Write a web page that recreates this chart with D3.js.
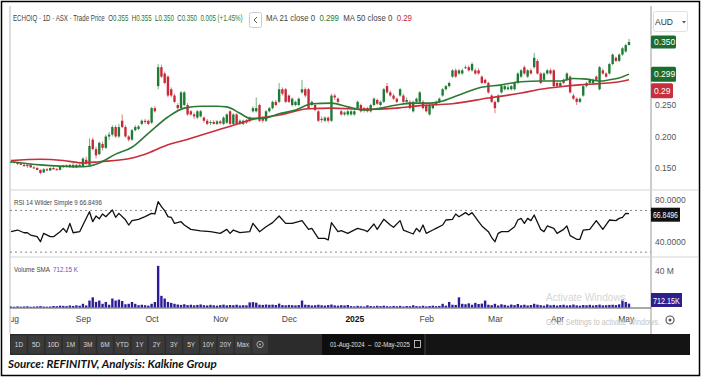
<!DOCTYPE html>
<html>
<head>
<meta charset="utf-8">
<script src="https://cdn.jsdelivr.net/npm/d3@7"></script>
<style>
  body { margin: 0; background: #fff; }
  svg { display: block; font-family: "Liberation Sans", Arial, sans-serif; }
</style>
</head>
<body>
<svg id="chart" width="702" height="378"></svg>
<script>
/* DATA */
// daily candles, 01-Aug-2024 .. 02-May-2025 : [open, high, low, close]
const ohlc = [
  [0.160,0.162,0.158,0.160],[0.160,0.162,0.157,0.158],[0.158,0.160,0.155,0.157],[0.157,0.160,0.155,0.155],[0.155,0.158,0.152,0.153],
  [0.153,0.156,0.150,0.155],[0.155,0.157,0.150,0.151],[0.151,0.153,0.148,0.150],[0.150,0.152,0.146,0.147],[0.147,0.148,0.140,0.142],
  [0.143,0.150,0.142,0.148],[0.148,0.150,0.145,0.146],[0.146,0.151,0.145,0.150],[0.150,0.152,0.147,0.148],[0.148,0.150,0.146,0.147],
  [0.147,0.153,0.146,0.152],[0.152,0.155,0.150,0.154],[0.154,0.156,0.151,0.152],[0.152,0.156,0.150,0.155],[0.155,0.158,0.150,0.151],
  [0.151,0.156,0.150,0.155],[0.155,0.157,0.152,0.153],[0.153,0.167,0.152,0.165],[0.163,0.168,0.155,0.157],[0.155,0.197,0.154,0.185],
  [0.195,0.198,0.178,0.180],[0.180,0.184,0.165,0.170],[0.172,0.192,0.170,0.190],[0.188,0.192,0.178,0.182],[0.182,0.203,0.180,0.200],
  [0.200,0.207,0.195,0.203],[0.203,0.218,0.200,0.215],[0.215,0.218,0.198,0.200],[0.200,0.220,0.198,0.215],[0.225,0.235,0.213,0.215],
  [0.215,0.218,0.198,0.200],[0.200,0.202,0.192,0.195],[0.195,0.212,0.193,0.210],[0.210,0.218,0.208,0.215],[0.212,0.218,0.210,0.216],
  [0.220,0.227,0.218,0.225],[0.225,0.228,0.220,0.223],[0.225,0.227,0.218,0.220],[0.222,0.247,0.220,0.245],[0.245,0.248,0.238,0.240],
  [0.280,0.315,0.275,0.310],[0.310,0.314,0.293,0.295],[0.300,0.303,0.283,0.285],[0.295,0.297,0.262,0.265],[0.275,0.278,0.262,0.265],
  [0.265,0.268,0.253,0.255],[0.250,0.253,0.243,0.245],[0.245,0.272,0.243,0.270],[0.250,0.272,0.248,0.270],[0.250,0.253,0.233,0.235],
  [0.240,0.242,0.233,0.235],[0.235,0.238,0.228,0.232],[0.230,0.242,0.228,0.240],[0.232,0.242,0.230,0.240],[0.230,0.232,0.222,0.225],
  [0.225,0.228,0.218,0.220],[0.222,0.226,0.218,0.223],[0.223,0.226,0.219,0.220],[0.220,0.226,0.218,0.224],[0.224,0.226,0.219,0.221],
  [0.220,0.232,0.218,0.230],[0.222,0.237,0.220,0.235],[0.240,0.242,0.218,0.220],[0.220,0.237,0.218,0.235],[0.235,0.237,0.218,0.220],
  [0.220,0.227,0.218,0.225],[0.220,0.227,0.218,0.225],[0.225,0.228,0.220,0.222],[0.225,0.232,0.222,0.230],[0.240,0.248,0.238,0.245],
  [0.240,0.262,0.238,0.245],[0.250,0.252,0.223,0.225],[0.230,0.232,0.222,0.225],[0.225,0.242,0.223,0.240],[0.240,0.247,0.238,0.245],
  [0.245,0.257,0.243,0.255],[0.255,0.258,0.248,0.250],[0.255,0.285,0.253,0.275],[0.275,0.278,0.265,0.268],[0.275,0.277,0.253,0.255],
  [0.265,0.267,0.253,0.255],[0.250,0.262,0.248,0.260],[0.250,0.257,0.248,0.255],[0.250,0.262,0.248,0.260],[0.270,0.290,0.268,0.275],
  [0.275,0.278,0.262,0.265],[0.275,0.277,0.243,0.245],[0.250,0.257,0.248,0.255],[0.250,0.252,0.240,0.242],[0.240,0.242,0.223,0.225],
  [0.228,0.232,0.222,0.226],[0.225,0.232,0.223,0.230],[0.230,0.232,0.222,0.225],[0.225,0.268,0.223,0.265],[0.265,0.268,0.258,0.262],
  [0.260,0.262,0.253,0.255],[0.240,0.242,0.233,0.235],[0.235,0.240,0.233,0.238],[0.235,0.242,0.233,0.240],[0.235,0.242,0.233,0.240],
  [0.235,0.242,0.233,0.240],[0.245,0.257,0.243,0.255],[0.250,0.252,0.238,0.240],[0.245,0.247,0.238,0.242],[0.245,0.247,0.238,0.240],
  [0.240,0.252,0.238,0.250],[0.250,0.262,0.248,0.260],[0.258,0.260,0.250,0.252],[0.250,0.257,0.248,0.255],[0.255,0.277,0.253,0.275],
  [0.280,0.285,0.268,0.270],[0.270,0.273,0.263,0.265],[0.265,0.268,0.258,0.260],[0.260,0.262,0.253,0.255],[0.265,0.277,0.263,0.275],
  [0.265,0.268,0.253,0.255],[0.255,0.262,0.250,0.258],[0.255,0.258,0.243,0.245],[0.240,0.257,0.238,0.255],[0.255,0.262,0.252,0.260],
  [0.255,0.272,0.253,0.270],[0.255,0.258,0.243,0.245],[0.250,0.252,0.238,0.240],[0.235,0.252,0.233,0.250],[0.245,0.252,0.243,0.250],
  [0.250,0.257,0.248,0.255],[0.255,0.262,0.253,0.260],[0.265,0.277,0.263,0.275],[0.275,0.282,0.273,0.280],[0.280,0.287,0.278,0.285],
  [0.295,0.307,0.293,0.305],[0.305,0.308,0.293,0.295],[0.300,0.307,0.298,0.305],[0.300,0.308,0.298,0.305],[0.310,0.313,0.307,0.310],
  [0.310,0.313,0.303,0.305],[0.305,0.318,0.303,0.315],[0.305,0.308,0.298,0.300],[0.305,0.308,0.298,0.300],[0.295,0.297,0.283,0.285],
  [0.290,0.292,0.283,0.285],[0.285,0.287,0.268,0.270],[0.265,0.267,0.253,0.255],[0.255,0.257,0.237,0.245],[0.255,0.267,0.253,0.265],
  [0.270,0.282,0.268,0.280],[0.275,0.282,0.273,0.280],[0.275,0.282,0.273,0.278],[0.275,0.282,0.273,0.280],[0.275,0.287,0.273,0.285],
  [0.285,0.302,0.283,0.300],[0.295,0.307,0.293,0.305],[0.310,0.313,0.298,0.300],[0.295,0.307,0.293,0.305],[0.305,0.308,0.298,0.300],
  [0.310,0.333,0.308,0.325],[0.320,0.323,0.298,0.300],[0.300,0.302,0.283,0.285],[0.290,0.302,0.288,0.300],[0.300,0.307,0.298,0.305],
  [0.305,0.308,0.298,0.300],[0.305,0.307,0.278,0.280],[0.285,0.287,0.278,0.280],[0.280,0.287,0.278,0.285],[0.290,0.292,0.283,0.285],
  [0.290,0.302,0.288,0.300],[0.295,0.297,0.268,0.270],[0.265,0.268,0.258,0.260],[0.260,0.262,0.250,0.255],[0.255,0.262,0.253,0.260],
  [0.265,0.282,0.263,0.280],[0.280,0.287,0.278,0.285],[0.285,0.292,0.283,0.290],[0.285,0.292,0.283,0.290],[0.295,0.297,0.288,0.290],
  [0.275,0.312,0.273,0.310],[0.305,0.308,0.298,0.300],[0.300,0.302,0.293,0.295],[0.300,0.317,0.298,0.315],[0.315,0.332,0.313,0.330],
  [0.325,0.327,0.318,0.320],[0.320,0.332,0.318,0.330],[0.330,0.342,0.328,0.340],[0.335,0.347,0.333,0.345],[0.345,0.355,0.345,0.350]
];

// volume in millions, one per candle
const volume = [
  1.0,0.8,1.2,0.9,1.1,1.3,0.8,1.0,1.2,1.5,1.0,0.9,1.1,
  1.6,1.4,2.0,1.8,1.5,2.2,1.7,2.4,1.9,
  4.0,2.2,7.5,11.0,6.0,7.5,4.0,6.0,3.0,9.7,7.5,8.5,7.0,3.5,4.0,6.0,4.0,2.5,3.0,2.5,2.0,4.0,6.0,45.0,12.6,9.7,6.0,5.0,4.0,
  3.2,2.8,3.5,2.6,3.0,2.4,2.8,3.3,2.5,2.2,2.9,2.4,2.0,2.6,3.1,2.3,2.7,2.5,3.0,2.2,
  2.5,2.4,5.5,5.8,5.2,3.0,2.8,3.2,2.9,3.1,2.7,4.2,2.6,2.4,2.8,2.5,2.3,2.6,7.5,3.0,
  2.8,2.2,2.5,3.0,2.4,2.1,2.6,3.2,2.3,2.0,2.5,2.2,2.7,
  1.5,1.2,1.8,1.4,1.1,2.3,1.6,1.3,1.9,1.5,2.0,1.4,1.2,1.7,1.3,1.8,1.1,1.6,1.4,2.4,1.5,1.3,1.9,1.2,1.6,2.0,1.4,1.7,
  4.0,2.0,6.0,3.0,2.8,11.0,4.0,3.5,4.5,3.0,5.0,3.8,4.2,7.5,
  3.0,2.5,4.0,2.2,3.5,2.8,2.0,3.2,2.6,3.8,2.4,3.0,2.2,2.7,4.0,3.1,2.5,2.0,3.3,
  2.4,2.8,2.1,2.6,3.0,2.2,2.5,3.2,2.3,2.0,2.7,2.4,2.9,2.2,2.6,3.1,2.3,2.5,2.8,3.0,2.6,3.4,
  8.6,6.0,4.2
];

// moving averages read at candle indexes: [index, value]
const ma21 = [[0,0.160],[9,0.155],[15,0.153],[22,0.152],[27,0.158],[32,0.172],[37,0.183],[42,0.205],[48,0.231],
  [53,0.245],[58,0.248],[63,0.248],[66,0.247],[70,0.237],[73,0.229],[77,0.229],[82,0.236],[87,0.242],[92,0.252],
  [98,0.253],[103,0.247],[108,0.242],[113,0.245],[118,0.250],[123,0.253],[128,0.253],[131,0.255],[137,0.266],
  [143,0.277],[150,0.282],[156,0.287],[162,0.288],[168,0.288],[172,0.292],[176,0.291],[180,0.288],[183,0.290],
  [186,0.293],[189,0.299]];
const ma50 = [[0,0.162],[9,0.164],[16,0.162],[22,0.158],[27,0.160],[37,0.166],[42,0.174],[48,0.187],[53,0.194],
  [58,0.202],[63,0.210],[70,0.221],[73,0.226],[82,0.234],[91,0.244],[98,0.245],[108,0.243],[118,0.245],[125,0.249],
  [135,0.252],[146,0.261],[156,0.269],[162,0.275],[168,0.279],[174,0.282],[180,0.284],[186,0.287],[189,0.290]];

// RSI 14 read at candle indexes: [index, value]
const rsi = [[0,49.6],[2,51.2],[4,48.6],[5,48.6],[6,46.4],[8,44.8],[9,40.0],[10,48.0],[12,44.8],[13,44.8],[15,49.6],
  [16,52.8],[17,49.0],[18,57.6],[19,48.6],[21,49.6],[22,56.0],[24,68.8],[25,59.2],[26,64.6],[27,62.0],[28,66.6],
  [29,64.0],[31,70.4],[32,63.4],[33,67.2],[35,61.0],[36,56.0],[37,60.2],[39,61.5],[41,64.0],[43,67.2],[44,66.6],
  [45,78.4],[46,73.6],[47,69.8],[48,64.0],[49,63.4],[50,57.6],[52,59.2],[53,56.0],[55,51.8],[58,50.4],[61,49.6],
  [64,48.0],[66,51.8],[67,48.0],[68,51.2],[70,48.7],[73,49.6],[74,57.6],[76,49.6],[78,54.4],[80,58.3],[82,64.7],
  [84,57.6],[86,57.6],[89,60.2],[91,51.8],[92,52.8],[94,43.2],[96,43.2],[97,41.6],[98,58.3],[100,49.6],[101,50.6],
  [103,48.0],[104,49.6],[106,52.8],[108,51.2],[109,49.6],[111,57.0],[112,51.8],[114,61.5],[116,56.0],[117,53.8],
  [119,60.2],[120,51.2],[123,47.4],[124,52.8],[125,49.6],[126,56.0],[127,48.0],[129,51.2],[130,52.8],[132,56.0],
  [133,60.8],[135,61.5],[136,66.6],[137,64.0],[139,67.9],[140,65.6],[141,67.9],[143,59.2],[144,55.1],[146,49.6],
  [147,44.0],[148,40.0],[149,48.0],[150,49.6],[152,49.6],[154,54.4],[155,60.8],[156,62.4],[157,57.6],[158,62.4],
  [159,60.2],[160,65.6],[162,51.8],[163,49.6],[164,55.1],[166,52.8],[167,48.0],[169,51.8],[170,55.1],[171,45.8],
  [173,42.3],[174,42.3],[175,51.2],[177,51.8],[179,60.2],[181,51.8],[183,60.8],[185,60.2],[186,62.4],[187,63.4],
  [188,67.2],[189,66.85]];

// month labels at the first candle of each month
const monthTicks = [["Aug",0],["Sep",22],["Oct",43],["Nov",64],["Dec",85],["2025",105],["Feb",127],["Mar",148],["Apr",167],["May",188]];
const priceTicks = [0.15, 0.20, 0.25, 0.30];
const rsiTicks = [40, 80];
const rsiLevels = [30, 70];
const volTicks = [40];
const rangeButtons = ["1D","5D","10D","1M","3M","6M","YTD","1Y","2Y","3Y","5Y","10Y","20Y","Max"];

/* LAYOUT */
const L = 10, R = 651;
const up = "#1e7b34", down = "#c8283a";
const svg = d3.select("#chart");

const x = d3.scaleLinear().domain([0, ohlc.length - 1]).range([11, 629]);
const yPrice = d3.scaleLinear().domain([0.15, 0.35]).range([168, 42]);
const yRsi = d3.scaleLinear().domain([40, 80]).range([241.7, 200]);
const yVol = d3.scaleLinear().domain([0, 40]).range([307.5, 270.5]);

// squeeze a text horizontally so it spans `w` pixels from x0 (the source font is a narrow one)
function fit(t, x0, y0, w) {
  const n = t.attr("x", 0).attr("y", 0).node().getComputedTextLength();
  t.attr("transform", `translate(${x0},${y0}) scale(${w / n},1)`);
  return t;
}

const defs = svg.append("defs");
defs.append("clipPath").attr("id", "clipPrice").append("rect").attr("x", L).attr("y", 6).attr("width", R - L).attr("height", 184);

// frame + pane lines
svg.append("rect").attr("x", 1.5).attr("y", 1.5).attr("width", 698).attr("height", 374)
  .attr("fill", "#fff").attr("stroke", "#000").attr("stroke-width", 1.5);
svg.append("line").attr("x1", L).attr("x2", L).attr("y1", 6).attr("y2", 334).attr("stroke", "#bbb");
svg.append("line").attr("x1", R).attr("x2", R).attr("y1", 6).attr("y2", 334).attr("stroke", "#999");
[190, 257].forEach(yy => svg.append("line").attr("x1", L).attr("x2", 698).attr("y1", yy).attr("y2", yy).attr("stroke", "#d4d4d4"));
svg.append("line").attr("x1", L).attr("x2", R).attr("y1", 308).attr("y2", 308).attr("stroke", "#555");

// header
const head = svg.append("text").attr("font-size", 8.5).attr("fill", "#444");
[["ECHOIQ · 1D · ASX · Trade Price  O", "#444"], ["0.355", up], ["  H", "#444"], ["0.355", up], ["  L", "#444"],
 ["0.350", up], ["  C", "#444"], ["0.350", up], ["  0.005 (+1.45%)", up]]
  .forEach(([t, c]) => head.append("tspan").attr("fill", c).attr("xml:space", "preserve").text(t));
fit(head, 13, 21, 230);
svg.append("rect").attr("x", 249.5).attr("y", 12.5).attr("width", 12).attr("height", 15).attr("rx", 2)
  .attr("fill", "#fff").attr("stroke", "#ccc");
svg.append("path").attr("d", "M257,17 L254,20 L257,23").attr("fill", "none").attr("stroke", "#555").attr("stroke-width", 1);
const head2 = svg.append("text").attr("font-size", 8.5);
[["MA 21 close 0  ", "#444"], ["0.299", up], ["  MA 50 close 0  ", "#444"], ["0.29", down]]
  .forEach(([t, c]) => head2.append("tspan").attr("fill", c).attr("xml:space", "preserve").text(t));
fit(head2, 266, 21, 146);

// AUD selector
svg.append("rect").attr("x", 653.5).attr("y", 11.5).attr("width", 34).attr("height", 20).attr("rx", 2)
  .attr("fill", "#fff").attr("stroke", "#e0e0e0");
svg.append("text").attr("x", 655).attr("y", 25).attr("font-size", 8.5).attr("fill", "#333").text("AUD");
svg.append("path").attr("d", "M682,21 L686,21 L684,23.5 Z").attr("fill", "#555");

// price pane
const gP = svg.append("g").attr("clip-path", "url(#clipPrice)");
gP.selectAll("line.wick").data(ohlc).join("line").attr("class", "wick")
  .attr("x1", (d, i) => x(i)).attr("x2", (d, i) => x(i))
  .attr("y1", d => yPrice(d[1])).attr("y2", d => yPrice(d[2]))
  .attr("stroke", d => d[3] >= d[0] ? up : down).attr("stroke-width", 0.8).attr("opacity", 0.75);
gP.selectAll("rect.body").data(ohlc).join("rect").attr("class", "body")
  .attr("x", (d, i) => x(i) - 1.2).attr("width", 2.4)
  .attr("y", d => yPrice(Math.max(d[0], d[3])))
  .attr("height", d => Math.max(1, Math.abs(yPrice(d[0]) - yPrice(d[3]))))
  .attr("fill", d => d[3] >= d[0] ? up : down);

const maLine = d3.line().x(d => x(d[0])).y(d => yPrice(d[1])).curve(d3.curveMonotoneX);
gP.append("path").datum(ma50).attr("d", maLine).attr("fill", "none").attr("stroke", "#c62f3b").attr("stroke-width", 1.6);
gP.append("path").datum(ma21).attr("d", maLine).attr("fill", "none").attr("stroke", "#2a7a33").attr("stroke-width", 1.6);

const axP = svg.append("g").attr("transform", `translate(${R},0)`)
  .call(d3.axisRight(yPrice).tickValues(priceTicks).tickSize(0).tickPadding(4).tickFormat(d3.format(".3f")));
axP.select(".domain").remove();
axP.selectAll("text").attr("font-size", 8.5).attr("fill", "#555").attr("font-family", "Liberation Sans, Arial");

// value tags on the price axis
function tag(y, w, fill, txt, h = 13) {
  svg.append("rect").attr("x", R).attr("y", y - h / 2).attr("width", w).attr("height", h).attr("rx", 1.5).attr("fill", fill);
  svg.append("text").attr("x", R + 3).attr("y", y + 3).attr("font-size", 8.5).attr("fill", "#fff").text(txt);
}
tag(yPrice(ohlc[ohlc.length - 1][3]), 25, "#1e6b2e", "0.350");
tag(yPrice(ma21[ma21.length - 1][1]), 25, "#1e6b2e", "0.299", 15);
tag(yPrice(ma50[ma50.length - 1][1]) + 11, 22, "#c62f3b", "0.29", 15);

// RSI pane
fit(svg.append("text").attr("font-size", 7.5).attr("fill", "#444").text("RSI 14 Wilder Simple 9  66.8496"), 14, 205, 88);
svg.selectAll("line.lvl").data(rsiLevels).join("line").attr("class", "lvl")
  .attr("x1", L).attr("x2", R).attr("y1", d => yRsi(d)).attr("y2", d => yRsi(d))
  .attr("stroke", "#888").attr("stroke-dasharray", "2,3");
const rsiLine = d3.line().x(d => x(d[0])).y(d => yRsi(d[1]));
svg.append("path").datum(rsi).attr("d", rsiLine).attr("fill", "none").attr("stroke", "#111").attr("stroke-width", 1.3)
  .attr("stroke-linejoin", "round");
const axR = svg.append("g").attr("transform", `translate(${R},0)`)
  .call(d3.axisRight(yRsi).tickValues(rsiTicks).tickSize(0).tickPadding(4).tickFormat(d3.format(".4f")));
axR.select(".domain").remove();
axR.selectAll("text").attr("font-size", 8.5).attr("fill", "#555");
const rsiLast = yRsi(rsi[rsi.length - 1][1]);
svg.append("rect").attr("x", R).attr("y", rsiLast - 6).attr("width", 29).attr("height", 14).attr("fill", "#111");
fit(svg.append("text").attr("font-size", 8.5).attr("fill", "#fff").text("66.8496"), R + 2, rsiLast + 4, 25);

// volume pane
const volColor = "#2b1d9a";
const vLab = svg.append("text").attr("font-size", 7.5).attr("fill", "#444");
vLab.append("tspan").attr("xml:space", "preserve").text("Volume SMA  ");
vLab.append("tspan").attr("fill", "#5a4fc0").text("712.15 K");
fit(vLab, 14, 272, 64);
svg.selectAll("rect.vol").data(volume).join("rect").attr("class", "vol")
  .attr("x", (d, i) => x(i) - 1.2).attr("width", 2.4)
  .attr("y", d => yVol(d)).attr("height", d => yVol(0) - yVol(d))
  .attr("fill", volColor);
const axV = svg.append("g").attr("transform", `translate(${R},0)`)
  .call(d3.axisRight(yVol).tickValues(volTicks).tickSize(0).tickPadding(4).tickFormat(d => d + " M"));
axV.select(".domain").remove();
axV.selectAll("text").attr("font-size", 8.5).attr("fill", "#555");
svg.append("rect").attr("x", R).attr("y", 293).attr("width", 31).attr("height", 14).attr("fill", "#2e1f8f");
fit(svg.append("text").attr("font-size", 8.5).attr("fill", "#fff").text("712.15K"), R + 2, 303.5, 27);

// x axis (month labels); the first label is cut by the pane edge
const gX = svg.append("svg").attr("x", L + 1).attr("y", 308).attr("width", R - L - 1).attr("height", 25)
  .attr("viewBox", `${L + 1} 308 ${R - L - 1} 25`);
const axX = gX.append("g").attr("transform", "translate(0,313)")
  .call(d3.axisBottom(x).tickValues(monthTicks.map(d => d[1])).tickSize(0).tickPadding(3)
    .tickFormat(i => monthTicks.find(d => d[1] === i)[0]));
axX.select(".domain").remove();
axX.selectAll("text").attr("font-size", 8.5)
  .attr("font-weight", d => d === 105 ? "bold" : null).attr("fill", d => d === 105 ? "#111" : "#444");

// settings gear
svg.append("circle").attr("cx", 670).attr("cy", 320).attr("r", 4).attr("fill", "none").attr("stroke", "#555").attr("stroke-width", 1.2);
svg.append("circle").attr("cx", 670).attr("cy", 320).attr("r", 1.5).attr("fill", "#555");

// faint OS watermark
fit(svg.append("text").attr("font-size", 10).attr("fill", "#d6d6d6").text("Activate Windows"), 546, 301, 80);
fit(svg.append("text").attr("font-size", 9).attr("fill", "#c4c4c4").text("Go to Settings to activate Windows."), 546, 325, 114);

// range toolbar
svg.append("rect").attr("x", L).attr("y", 334).attr("width", 680).attr("height", 21).attr("fill", "#141414");
svg.append("rect").attr("x", L).attr("y", 334).attr("width", 312).attr("height", 21).attr("fill", "#2c2c2c");
const bx = d3.scaleBand().domain(d3.range(rangeButtons.length + 1)).range([11, 268]).paddingInner(0.08);
svg.selectAll("rect.btn").data(d3.range(rangeButtons.length + 1)).join("rect").attr("class", "btn")
  .attr("x", d => bx(d)).attr("y", 335.5).attr("width", bx.bandwidth()).attr("height", 18).attr("fill", "#3a3a3a");
svg.selectAll("text.btn").data(rangeButtons).join("text").attr("class", "btn")
  .attr("x", (d, i) => bx(i) + bx.bandwidth() / 2).attr("y", 347).attr("text-anchor", "middle")
  .attr("font-size", 6.5).attr("fill", "#d8d8d8").text(d => d);
const gx = bx(rangeButtons.length) + bx.bandwidth() / 2;
svg.append("circle").attr("cx", gx).attr("cy", 344.5).attr("r", 3.2).attr("fill", "none").attr("stroke", "#aaa");
svg.append("circle").attr("cx", gx).attr("cy", 344.5).attr("r", 1).attr("fill", "#aaa");
svg.append("rect").attr("x", 322).attr("y", 334).attr("width", 103).attr("height", 21).attr("fill", "#0e0e0e");
svg.append("line").attr("x1", 425).attr("x2", 425).attr("y1", 334).attr("y2", 355).attr("stroke", "#444");
fit(svg.append("text").attr("font-size", 7).attr("fill", "#e0e0e0").attr("xml:space", "preserve")
  .text("01-Aug-2024  –  02-May-2025"), 330, 347, 80);
svg.append("rect").attr("x", 414.5).attr("y", 340.5).attr("width", 6).attr("height", 7).attr("fill", "none").attr("stroke", "#ddd").attr("stroke-width", 0.8);

// source line
fit(svg.append("text").attr("font-family", "Lato, 'Open Sans', sans-serif")
  .attr("font-size", 12).attr("font-weight", "bold").attr("font-style", "italic").attr("fill", "#111")
  .text("Source: REFINITIV, Analysis: Kalkine Group"), 8, 368, 209);
</script>
</body>
</html>
